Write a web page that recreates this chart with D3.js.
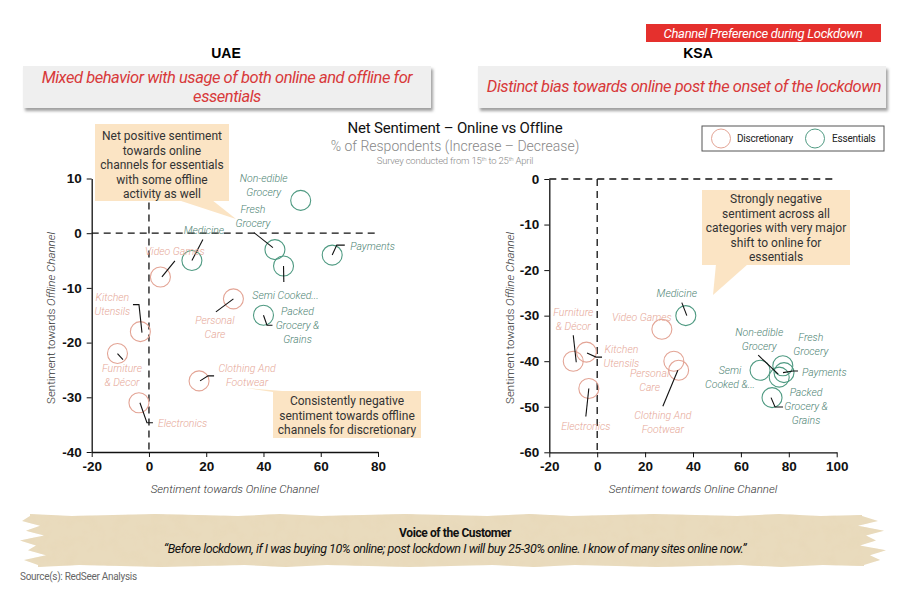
<!DOCTYPE html>
<html><head><meta charset="utf-8">
<script src="https://cdn.jsdelivr.net/npm/d3@7"></script>
<style>
body{margin:0;background:#fff;}
svg{display:block;font-family:Roboto,"Liberation Sans",sans-serif;}
</style></head>
<body><svg id="c" width="917" height="599"></svg>
<script>
// ---------- DATA ----------
const categories = ["Non-edible Grocery","Fresh Grocery","Medicine","Video Games","Payments","Semi Cooked","Packed Grocery & Grains","Personal Care","Kitchen Utensils","Furniture & Décor","Clothing And Footwear","Electronics"];
const categoryType = ["E","E","E","D","E","E","E","D","D","D","D","D"];
const uaeOnline  = [53, 44, 15, 4, 64, 47, 40, 29.5, -3, -11, 17.5, -3.5];
const uaeOffline = [6, -3, -5, -8, -4, -6, -15, -12, -18, -22, -27, -31];
const ksaOnline  = [76, 77.5, 37, 27, 78, 68, 73, 34, -4.5, -10, 32, -3.5];
const ksaOffline = [-43.5, -41, -30, -33, -42.5, -42, -48, -42, -38, -40, -40, -46];
const uaeXTicks = [-20, 0, 20, 40, 60, 80];
const uaeYTicks = [-40, -30, -20, -10, 0, 10];
const ksaXTicks = [-20, 0, 20, 40, 60, 80, 100];
const ksaYTicks = [-60, -50, -40, -30, -20, -10, 0];

// ---------- LAYOUT (label placement, pixels relative to point) ----------
const uaeLabels = [
  {lines:["Non-edible","Grocery"], dx:-37, dy:-21, anchor:"middle", lead:null},
  {lines:["Fresh","Grocery"], dx:-22, dy:-40, anchor:"middle", lead:[[-21,-17],[-2,-2]]},
  {lines:["Medicine"], dx:12, dy:-30, anchor:"middle", lead:[[11,-21],[0,0]]},
  {lines:["Video Games"], dx:14.5, dy:-25, anchor:"middle", lead:[[14.5,-16],[1.5,0]]},
  {lines:["Payments"], dx:18, dy:-8, anchor:"start", lead:[[12.6,-10],[4.6,-10],[0,0]]},
  {lines:["Semi Cooked..."], dx:2, dy:30, anchor:"middle", lead:[[0,0],[0.3,16]]},
  {lines:["Packed","Grocery &","Grains"], dx:34, dy:-3.5, anchor:"middle", lead:[[0,0],[3.5,10],[9,10]]},
  {lines:["Personal","Care"], dx:-18.5, dy:22, anchor:"middle", lead:[[-17.5,13],[0,0]]},
  {lines:["Kitchen","Utensils"], dx:-28, dy:-34, anchor:"middle", lead:[[-7.4,-27],[-1.4,-27],[1.6,1]]},
  {lines:["Furniture","& Décor"], dx:4.5, dy:15, anchor:"middle", lead:[[0,0],[5.5,6]]},
  {lines:["Clothing And","Footwear"], dx:48, dy:-12, anchor:"middle", lead:[[1,0],[9,-5],[15,-5]]},
  {lines:["Electronics"], dx:19, dy:21, anchor:"start", lead:[[1,0],[8,20],[14,20]]}
];
const ksaLabels = [
  {lines:["Non-edible","Grocery"], dx:-20, dy:-44, anchor:"middle", lead:[[-21,-22],[-1,-3]]},
  {lines:["Fresh","Grocery"], dx:28, dy:-28, anchor:"middle", lead:null},
  {lines:["Medicine"], dx:-9, dy:-22, anchor:"middle", lead:[[-4,-13],[1,0]]},
  {lines:["Video Games"], dx:-20, dy:-11, anchor:"middle", lead:null},
  {lines:["Payments"], dx:18, dy:0, anchor:"start", lead:[[14,-1.6],[9,-1.6],[-1,0]]},
  {lines:["Semi","Cooked &..."], dx:-30, dy:0.6, anchor:"middle", lead:null},
  {lines:["Packed","Grocery &","Grains"], dx:34, dy:-5, anchor:"middle", lead:[[-1,0],[3,9.3],[11,9.3]]},
  {lines:["Personal","Care"], dx:-29, dy:4, anchor:"middle", lead:null},
  {lines:["Kitchen","Utensils"], dx:35, dy:-2, anchor:"middle", lead:[[0.6,1],[9.6,5],[15.6,5]]},
  {lines:["Furniture","& Décor"], dx:0, dy:-48, anchor:"middle", lead:[[0,-26],[3,1]]},
  {lines:["Clothing And","Footwear"], dx:-11, dy:55, anchor:"middle", lead:[[-11,45],[4,9]]},
  {lines:["Electronics"], dx:-3, dy:38, anchor:"middle", lead:[[-3,28],[0,0]]}
];

const colD = "#e3a495", colE = "#4f9a82";
const labD = "#e6a898", labE = "#4e8474";

const svg = d3.select("#c");
const defs = svg.append("defs");
const sh = defs.append("filter").attr("id","shadow").attr("x","-5%").attr("y","-20%").attr("width","115%").attr("height","160%");
sh.append("feDropShadow").attr("dx",2).attr("dy",3).attr("stdDeviation",1.5).attr("flood-color","#777").attr("flood-opacity",0.7);
const tex = defs.append("filter").attr("id","paper");
tex.append("feTurbulence").attr("type","fractalNoise").attr("baseFrequency",0.08).attr("numOctaves",3).attr("seed",4).attr("result","n");
tex.append("feColorMatrix").attr("in","n").attr("type","matrix")
  .attr("values","0 0 0 0 0.80  0 0 0 0 0.68  0 0 0 0 0.48  0 0 0 -1.2 0.75").attr("result","m");
tex.append("feComposite").attr("in","m").attr("in2","SourceGraphic").attr("operator","in").attr("result","c");
tex.append("feMerge").selectAll("feMergeNode").data(["SourceGraphic","c"]).join("feMergeNode").attr("in",d=>d);

// ---------- HEADERS ----------
svg.append("rect").attr("x",646).attr("y",24).attr("width",235).attr("height",18).attr("fill","#e5302d");
svg.append("text").attr("x",763).attr("y",37.5).attr("text-anchor","middle").attr("fill","#fff")
  .attr("font-size",13).attr("font-style","italic").attr("letter-spacing",-0.3).text("Channel Preference during Lockdown");

svg.append("text").attr("x",226).attr("y",58).attr("text-anchor","middle").attr("font-weight","bold")
  .attr("font-size",14).attr("font-family","Liberation Sans, Arial").text("UAE");
svg.append("text").attr("x",698).attr("y",58).attr("text-anchor","middle").attr("font-weight","bold")
  .attr("font-size",14).attr("font-family","Liberation Sans, Arial").text("KSA");

svg.append("rect").attr("x",23).attr("y",66).attr("width",408).attr("height",42).attr("fill","#efefef").attr("filter","url(#shadow)");
svg.append("rect").attr("x",478).attr("y",66).attr("width",408).attr("height",42).attr("fill","#efefef").attr("filter","url(#shadow)");
const hl = svg.append("text").attr("text-anchor","middle").attr("fill","#d8393a").attr("font-size",16.5).attr("font-style","italic").attr("letter-spacing",-0.45);
hl.append("tspan").attr("x",227).attr("y",83).text("Mixed behavior with usage of both online and offline for");
hl.append("tspan").attr("x",227).attr("y",102).text("essentials");
svg.append("text").attr("x",684).attr("y",92).attr("text-anchor","middle").attr("fill","#d8393a").attr("font-size",16.5)
  .attr("font-style","italic").attr("letter-spacing",-0.45).text("Distinct bias towards online post the onset of the  lockdown");

// ---------- TITLE ----------
svg.append("text").attr("x",455).attr("y",133).attr("text-anchor","middle").attr("font-size",15).attr("fill","#111").attr("letter-spacing",-0.2)
  .text("Net Sentiment – Online vs Offline");
svg.append("text").attr("x",455).attr("y",151).attr("text-anchor","middle").attr("font-size",14).attr("font-weight",300).attr("fill","#888")
  .text("% of Respondents (Increase – Decrease)");
const sv = svg.append("text").attr("x",455).attr("y",164).attr("text-anchor","middle").attr("font-size",9.5).attr("font-weight",300).attr("fill","#888").attr("letter-spacing",-0.2);
sv.append("tspan").text("Survey conducted from 15");
sv.append("tspan").attr("font-size",6).attr("dy",-3).text("th");
sv.append("tspan").attr("dy",3).text(" to 25");
sv.append("tspan").attr("font-size",6).attr("dy",-3).text("th");
sv.append("tspan").attr("dy",3).text(" April");

// ---------- LEGEND ----------
svg.append("rect").attr("x",702).attr("y",126).attr("width",182).attr("height",25).attr("fill","#fff").attr("stroke","#555").attr("stroke-width",1);
svg.append("circle").attr("cx",721).attr("cy",138.5).attr("r",9.5).attr("fill","none").attr("stroke",colD);
svg.append("text").attr("x",737).attr("y",142).attr("font-size",10).attr("fill","#222").attr("letter-spacing",-0.2).text("Discretionary");
svg.append("circle").attr("cx",815).attr("cy",138.5).attr("r",9.5).attr("fill","none").attr("stroke",colE);
svg.append("text").attr("x",832).attr("y",142).attr("font-size",10).attr("fill","#222").attr("letter-spacing",-0.2).text("Essentials");

// ---------- CHART ----------
function drawChart(cfg){
  const g = svg.append("g");
  const x = d3.scaleLinear().domain(cfg.xd).range(cfg.xr);
  const y = d3.scaleLinear().domain(cfg.yd).range(cfg.yr);
  g.append("line").attr("x1",x(cfg.xd[0])).attr("x2",x(cfg.xd[1])).attr("y1",y(0)).attr("y2",y(0))
    .attr("stroke","#111").attr("stroke-width",1.3).attr("stroke-dasharray","7,5");
  g.append("line").attr("x1",x(0)).attr("x2",x(0)).attr("y1",y(cfg.yd[1])).attr("y2",y(cfg.yd[0]))
    .attr("stroke","#111").attr("stroke-width",1.3).attr("stroke-dasharray","7,5");
  const fmt = d => String(d);
  const ax = g.append("g").attr("transform",`translate(0,${cfg.yr[0]})`)
    .call(d3.axisBottom(x).tickValues(cfg.xt).tickFormat(fmt).tickSize(5).tickSizeOuter(0).tickPadding(4));
  const ay = g.append("g").attr("transform",`translate(${cfg.xr[0]},0)`)
    .call(d3.axisLeft(y).tickValues(cfg.yt).tickFormat(fmt).tickSize(5).tickSizeOuter(0).tickPadding(5));
  [ax,ay].forEach(a=>{
    a.select(".domain").attr("stroke","#111").attr("stroke-width",1.3);
    a.selectAll(".tick line").attr("stroke","#111");
    a.selectAll(".tick text").attr("font-size",13.5).attr("font-weight","bold").attr("fill","#111")
      .attr("font-family","Liberation Sans, Arial");
  });
  g.append("text").attr("x",(cfg.xr[0]+cfg.xr[1])/2).attr("y",493).attr("text-anchor","middle")
    .attr("font-size",11.5).attr("font-style","italic").attr("font-weight",300).attr("fill","#333").text("Sentiment towards  Online Channel");
  const yt = g.append("text").attr("transform",`translate(${cfg.ytx},${cfg.yty}) rotate(-90)`).attr("text-anchor","middle")
    .attr("font-size",11.5).attr("font-weight",300).attr("fill","#333");
  yt.append("tspan").text("Sentiment towards ");
  yt.append("tspan").attr("font-style","italic").text("Offline Channel");

  cfg.callouts.forEach(c=>{
    g.append("path").attr("d",d3.line()(c.tail)+"Z").attr("fill","#fbe4c4");
    g.append("rect").attr("x",c.x).attr("y",c.y).attr("width",c.w).attr("height",c.h).attr("fill","#fbe4c4");
    const t = g.append("text").attr("text-anchor","middle").attr("font-size",12).attr("fill","#333");
    c.lines.forEach((l,i)=>t.append("tspan").attr("x",c.x+c.w/2).attr("y",c.ty+i*c.lh).text(l));
  });

  const pts = categories.map((c,i)=>({c, t:categoryType[i], px:x(cfg.xs[i]), py:y(cfg.ys[i]), lab:cfg.labels[i]}));
  g.selectAll("circle.pt").data(pts).join("circle").attr("class","pt")
    .attr("cx",d=>d.px).attr("cy",d=>d.py).attr("r",10).attr("fill","none")
    .attr("stroke",d=>d.t==="D"?colD:colE).attr("stroke-width",1.1);
  pts.filter(d=>d.lab.lead).forEach(d=>{
    g.append("path").attr("d",d3.line()(d.lab.lead.map(p=>[d.px+p[0],d.py+p[1]])))
      .attr("fill","none").attr("stroke","#111").attr("stroke-width",1.1);
  });
  pts.forEach(d=>{
    const t = g.append("text").attr("text-anchor",d.lab.anchor).attr("font-size",10.5).attr("font-style","italic")
      .attr("font-weight",300).attr("fill",d.t==="D"?labD:labE).attr("dominant-baseline","middle");
    d.lab.lines.forEach((l,i)=>t.append("tspan").attr("x",d.px+d.lab.dx).attr("y",d.py+d.lab.dy+i*14).text(l));
  });
}

drawChart({xd:[-20,80], xr:[91.7,378], yd:[-40,10], yr:[452,178.5], xt:uaeXTicks, yt:uaeYTicks,
  xs:uaeOnline, ys:uaeOffline, labels:uaeLabels, ytx:55, yty:318,
  callouts:[
    {x:95,y:124,w:134,h:77,ty:140,lh:14.6,tail:[[178,200],[212,200],[236,219]],
     lines:["Net positive sentiment","towards online","channels for essentials","with some offline","activity as well"]},
    {x:273,y:391,w:148,h:47,ty:405,lh:14.5,tail:[[246,388],[273,392],[295,392]],
     lines:["Consistently negative","sentiment towards offline","channels for discretionary"]}
  ]});
drawChart({xd:[-20,100], xr:[549.3,836.7], yd:[-60,0], yr:[452.3,179], xt:ksaXTicks, yt:ksaYTicks,
  xs:ksaOnline, ys:ksaOffline, labels:ksaLabels, ytx:514, yty:318,
  callouts:[
    {x:702,y:190,w:148,h:75,ty:203,lh:14.5,tail:[[716,264],[748,264],[713,295]],
     lines:["Strongly negative","sentiment across all","categories with very major","shift to online for","essentials"]}
  ]});

// ---------- BANNER ----------
(function(){
  const pts = [];
  const top = 516, bot = 565;
  const lx = [30,22,40,26,44,20,36,28,46,24,38];
  const rx = [862,878,858,884,866,876,860,886,870,880,864];
  for(let i=0;i<=20;i++) pts.push([lx[0]+i*(rx[0]-lx[0])/20, top - (i%3===0?2:(i%2?0:1))]);
  rx.forEach((v,i)=>pts.push([v, top + i*(bot-top)/(rx.length-1)]));
  for(let i=20;i>=0;i--) pts.push([lx[10]+i*(rx[10]-lx[10])/20, bot + (i%3===0?2:(i%2?0:1))]);
  lx.slice().reverse().forEach((v,i)=>pts.push([v, bot - i*(bot-top)/(lx.length-1)]));
  svg.append("path").attr("d",d3.line()(pts)+"Z").attr("fill","#e9dbbd").attr("filter","url(#paper)");
})();
svg.append("text").attr("x",455).attr("y",537).attr("text-anchor","middle").attr("font-size",12).attr("font-weight","bold")
  .attr("letter-spacing",-0.4).attr("fill","#111").text("Voice of the Customer");
svg.append("text").attr("x",455).attr("y",553).attr("text-anchor","middle").attr("font-size",12.5).attr("font-style","italic")
  .attr("letter-spacing",-0.45).attr("fill","#111")
  .text("“Before lockdown, if I was buying 10% online; post lockdown I will buy 25-30% online. I know of many sites online now.”");
svg.append("text").attr("x",20).attr("y",580).attr("font-size",10).attr("fill","#666").attr("letter-spacing",-0.3)
  .text("Source(s): RedSeer Analysis");
</script></body></html>
